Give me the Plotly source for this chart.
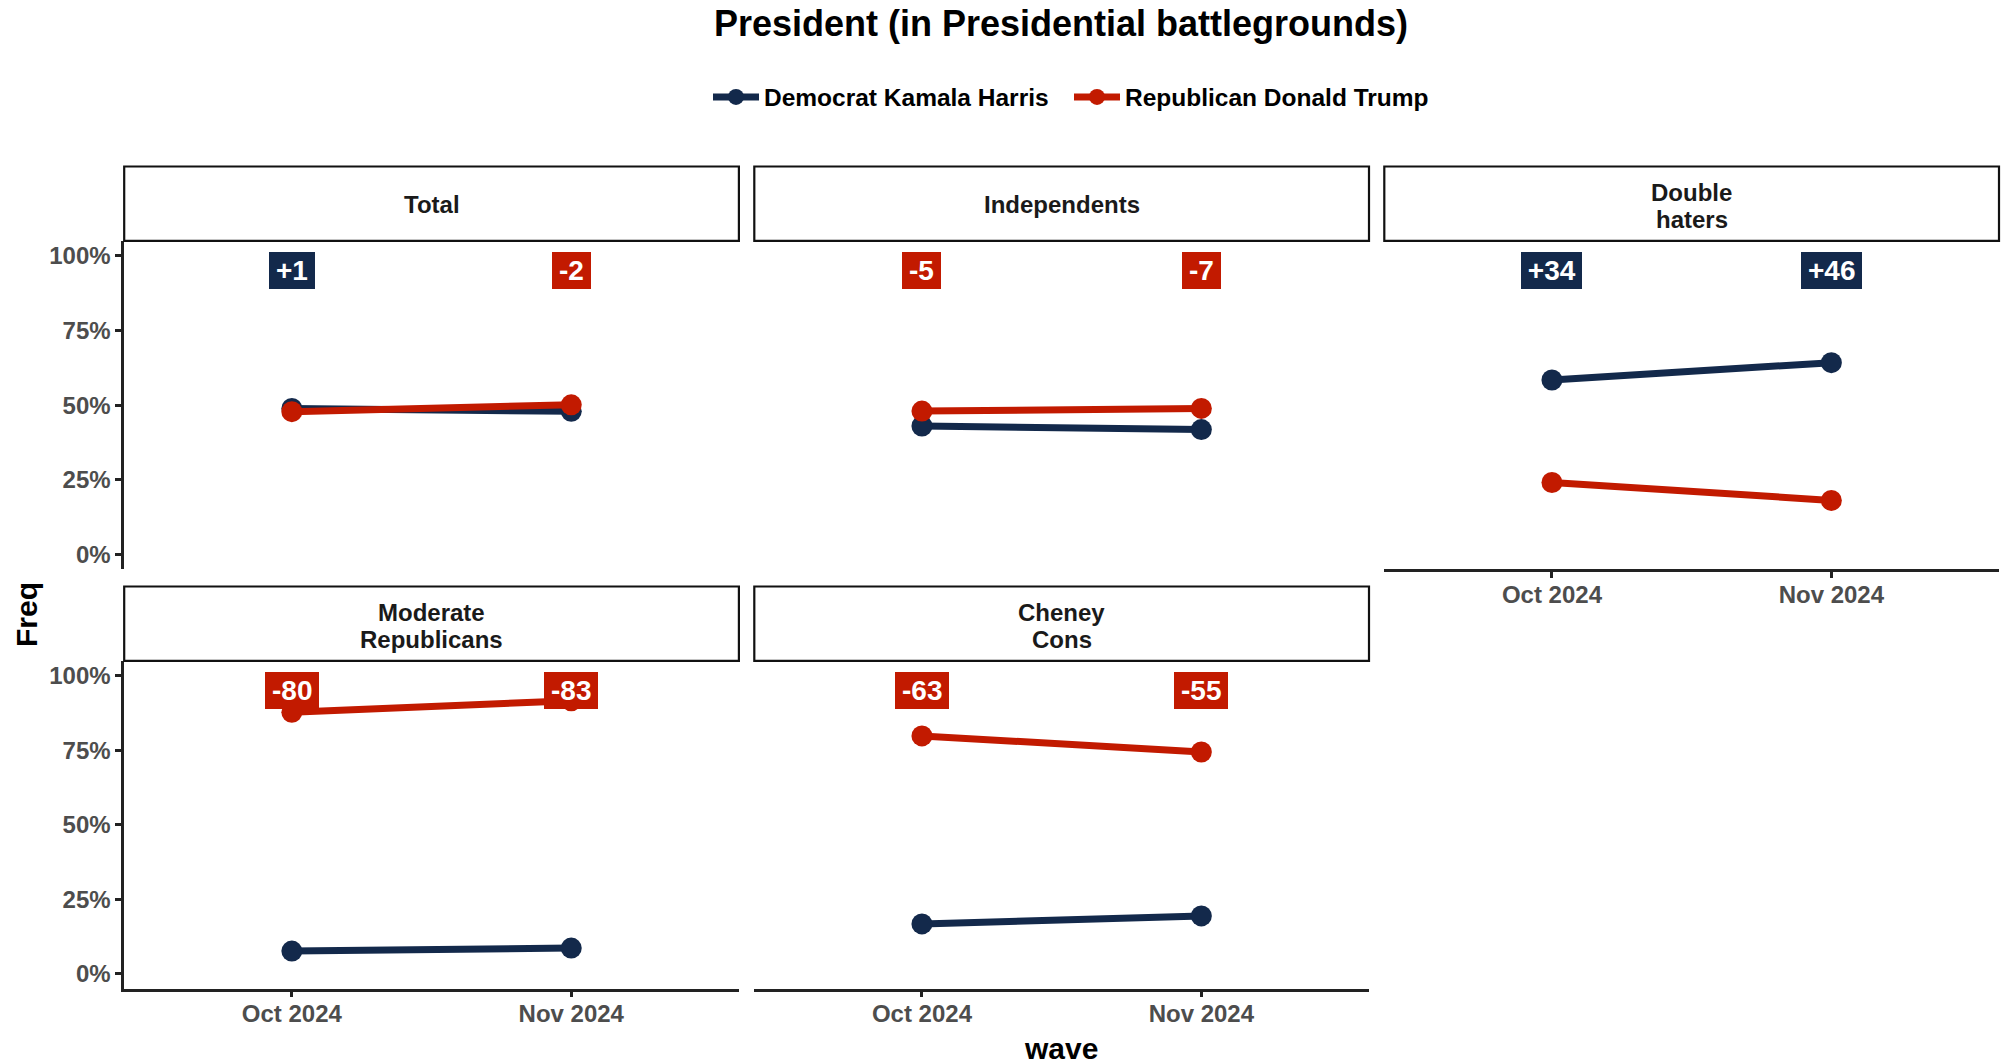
import plotly.graph_objects as go

# ---------------- data ----------------
waves = ["Oct 2024", "Nov 2024"]
panels = ["Total", "Independents", "Double<br>haters", "Moderate<br>Republicans", "Cheney<br>Cons"]
harris = [[48.9, 47.9], [43.0, 41.8], [58.4, 64.2], [7.6, 8.6], [16.7, 19.4]]
trump = [[47.8, 50.1], [48.0, 48.9], [24.1, 18.1], [87.7, 91.6], [79.8, 74.4]]
margins = [[1, -2], [-5, -7], [34, 46], [-80, -83], [-63, -55]]
series_names = ["Democrat Kamala Harris", "Republican Donald Trump"]
y_ticks = [0, 25, 50, 75, 100]
y_tick_text = ["0%", "25%", "50%", "75%", "100%"]

# ---------------- style ----------------
W, H = 2008, 1064
NAVY = "#13294B"
RED = "#C21A00"
FONT = "Liberation Sans, Arial, Helvetica, sans-serif"
AX = "#222222"
TICKC = "#4D4D4D"
LBL_SIZE = 28
CHAR_W = {"+": 0.584, "-": 0.333}

col_x0 = [124.2, 754.3, 1384.3]
panel_w = 614.7
row_strip_top = [166.5, 586.5]
row_top = [240.8, 660.8]
row_bot = [569.4, 988.6]

grid = [(0, 0), (0, 1), (0, 2), (1, 0), (1, 1)]
show_y = [True, False, False, True, False]
show_x = [False, False, True, True, True]

fig = go.Figure()
layout = {}
shapes = []
annotations = []

for i, (r, c) in enumerate(grid):
    n = i + 1
    xa = "x" if n == 1 else f"x{n}"
    ya = "y" if n == 1 else f"y{n}"
    xkey = "xaxis" if n == 1 else f"xaxis{n}"
    ykey = "yaxis" if n == 1 else f"yaxis{n}"
    x0 = col_x0[c]
    x1 = x0 + panel_w
    layout[xkey] = dict(
        domain=[x0 / W, x1 / W], anchor=ya, type="category",
        categoryorder="array", categoryarray=waves,
        range=[-0.6, 1.6], showgrid=False, zeroline=False,
        showline=show_x[i], linecolor=AX, linewidth=2.5,
        ticks="outside" if show_x[i] else "", ticklen=6, tickwidth=2.5, tickcolor=AX,
        showticklabels=show_x[i], ticklabelstandoff=-4,
        tickfont=dict(family=FONT, size=24, color=TICKC, weight="bold"),
        fixedrange=True,
    )
    layout[ykey] = dict(
        domain=[1 - row_bot[r] / H, 1 - row_top[r] / H], anchor=xa,
        range=[-5, 105], showgrid=False, zeroline=False,
        showline=show_y[i], linecolor=AX, linewidth=2.5,
        ticks="outside" if show_y[i] else "", ticklen=6, tickwidth=2.5, tickcolor=AX,
        tickvals=y_ticks, ticktext=y_tick_text,
        showticklabels=show_y[i],
        tickfont=dict(family=FONT, size=24, color=TICKC, weight="bold"),
        fixedrange=True,
    )
    # strip
    shapes.append(dict(type="rect", xref="paper", yref="paper",
                       x0=x0 / W, x1=x1 / W,
                       y0=1 - row_top[r] / H, y1=1 - row_strip_top[r] / H,
                       fillcolor="white", line=dict(color="#111111", width=2.2)))
    lines = panels[i].split("<br>")
    yc = (row_top[r] + row_strip_top[r]) / 2 + (2.5 if len(lines) > 1 else 1.0)
    lh = 27
    for k, ln in enumerate(lines):
        yy = yc + (k - (len(lines) - 1) / 2) * lh
        annotations.append(dict(xref="paper", yref="paper",
                                x=(x0 + x1) / 2 / W, y=1 - yy / H,
                                text=ln, showarrow=False,
                                xanchor="center", yanchor="middle",
                                font=dict(family=FONT, size=24, color="#1A1A1A", weight="bold")))
    # series
    for s, (vals, col) in enumerate(((harris[i], NAVY), (trump[i], RED))):
        fig.add_trace(go.Scatter(
            x=waves, y=vals, xaxis=xa, yaxis=ya,
            mode="lines+markers", name=series_names[s],
            legendgroup=series_names[s], showlegend=(i == 0),
            line=dict(color=col, width=7),
            marker=dict(color=col, size=21),
            hoverinfo="skip",
        ))
    # margin labels
    for j, m in enumerate(margins[i]):
        txt = f"+{m}" if m > 0 else f"{m}"
        bg = NAVY if m > 0 else RED
        tw = sum(CHAR_W.get(ch, 0.556) for ch in txt) * LBL_SIZE
        annotations.append(dict(xref=xa, yref=ya, x=waves[j], y=95,
                                text=txt, showarrow=False,
                                xanchor="center", yanchor="middle",
                                width=tw + 8,
                                bgcolor=bg, bordercolor=bg, borderwidth=1, borderpad=2,
                                font=dict(family=FONT, size=LBL_SIZE, color="white", weight="bold")))

# axis titles
annotations.append(dict(xref="paper", yref="paper", x=1061 / W, y=1 - 1048 / H,
                        text="wave", showarrow=False, xanchor="center", yanchor="middle",
                        font=dict(family=FONT, size=30, color="black", weight="bold")))
annotations.append(dict(xref="paper", yref="paper", x=26 / W, y=1 - 615 / H,
                        text="Freq", showarrow=False, textangle=-90,
                        xanchor="center", yanchor="middle",
                        font=dict(family=FONT, size=30, color="black", weight="bold")))

fig.update_layout(
    **layout,
    width=W, height=H, autosize=False,
    margin=dict(l=0, r=0, t=0, b=0),
    paper_bgcolor="white", plot_bgcolor="white",
    title=dict(text="President (in Presidential battlegrounds)",
               x=1061 / W, xanchor="center", y=1 - 23 / H, yanchor="middle",
               yref="container", xref="container",
               font=dict(family=FONT, size=36, color="black", weight="bold")),
    legend=dict(orientation="h", x=1069 / W, xanchor="center", y=1 - 97 / H, yanchor="middle",
                font=dict(family=FONT, size=24.5, color="black", weight="bold"),
                bgcolor="rgba(0,0,0,0)", itemsizing="trace", tracegroupgap=0,
                itemwidth=46, entrywidth=300, entrywidthmode="pixels"),
    shapes=shapes,
    annotations=annotations,
    showlegend=True,
)

fig.write_html("out.html", config={"displayModeBar": False},
               post_script="document.body.style.margin='0';document.body.style.overflow='hidden';")
